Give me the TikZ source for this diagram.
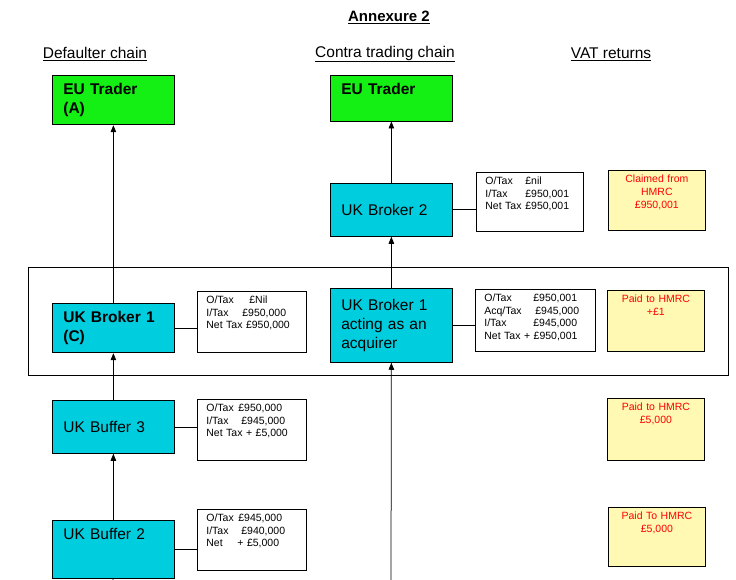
\documentclass[tikz,border=0pt]{standalone}
\usepackage{fontspec}
\setmainfont{Liberation Sans}
\usetikzlibrary{arrows.meta,positioning}
\definecolor{tradergreen}{HTML}{14F014}
\definecolor{brokercyan}{HTML}{00CEDF}
\definecolor{vatyellow}{HTML}{FFF9B4}

\begin{document}
\begin{tikzpicture}[x=1pt,y=-1pt, line width=0.75pt,
  party/.style={draw, anchor=north west, fill=brokercyan, text width=100pt, inner xsep=11pt, inner ysep=8pt, align=left, font=\fontsize{15.5}{19}\selectfont},
  trader/.style={party, fill=tradergreen, font=\fontsize{15.5}{19}\selectfont\bfseries},
  taxnote/.style={draw, anchor=north west, fill=white, inner xsep=9pt, inner ysep=5pt, align=left, font=\fontsize{10.5}{12.5}\selectfont},
  vatbox/.style={draw, anchor=north west, fill=vatyellow, text=red, text width=89pt, inner xsep=4pt, inner ysep=5pt, align=center, font=\fontsize{10.5}{13}\selectfont},
  heading/.style={font=\fontsize{15.5}{18}\selectfont},
  flow/.style={-{Triangle[length=7pt,width=5.5pt]}}
]
\useasboundingbox (0,0) rectangle (736,580);

% headings
\node[heading, font=\fontsize{15}{18}\selectfont\bfseries] (title) at (389,17) {\underline{Annexure 2}};
\node[heading] (defhead) at (95,54) {\underline{Defaulter chain}};
\node[heading] (contrahead) at (385,54) {\underline{Contra trading chain}};
\node[heading] (vathead) at (611,54) {\underline{VAT returns}};

% frame round the broker row
\node[draw, anchor=north west, minimum width=700pt, minimum height=108pt] (band) at (28,267) {};

% defaulter chain
\node[trader, minimum height=46pt] (traderA) at (52,75) {EU Trader\\(A)};
\node[party, font=\fontsize{15.5}{19}\selectfont\bfseries, minimum height=49pt] (brokerC) at (52,303) {UK Broker 1\\(C)};
\node[party, minimum height=53pt] (buf3) at (52,400) {UK Buffer 3};
\node[party, text depth=30.5pt] (buf2) at (52,520) {UK Buffer 2};
\coordinate (tail) at (113,580);

% contra trading chain
\node[trader, text depth=18.5pt] (traderB) at (330,75) {EU Trader};
\node[party, minimum height=53pt] (broker2) at (330,183) {UK Broker 2};
\node[party, minimum height=74pt] (acquirer) at (330,288) {UK Broker 1\\acting as an\\acquirer};
\coordinate (feed) at (391,580);

% tax notes
\node[taxnote, text width=91pt, text depth=43pt] (noteC) at (197,291)
  {\makebox[43pt][l]{O/Tax}£Nil\\\makebox[36pt][l]{I/Tax}£950,000\\Net Tax £950,000};
\node[taxnote, text width=91pt, text depth=43pt] (note3) at (197,399)
  {\makebox[32pt][l]{O/Tax}£950,000\\\makebox[35pt][l]{I/Tax}£945,000\\Net Tax + £5,000};
\node[taxnote, text width=91pt, text depth=43pt] (note2) at (197,509)
  {\makebox[32pt][l]{O/Tax}£945,000\\\makebox[35pt][l]{I/Tax}£940,000\\\makebox[31pt][l]{Net}+ £5,000};
\node[taxnote, text width=89pt, text depth=41pt] (noteB2) at (476,172)
  {\makebox[40pt][l]{O/Tax}£nil\\\makebox[40pt][l]{I/Tax}£950,001\\\makebox[40pt][l]{Net Tax}£950,001};
\node[taxnote, text width=102pt, text depth=44pt] (noteAcq) at (475,289)
  {\makebox[49pt][l]{O/Tax}£950,001\\\makebox[51pt][l]{Acq/Tax}£945,000\\\makebox[49pt][l]{I/Tax}£945,000\\Net Tax + £950,001};

% VAT returns
\node[vatbox, text depth=42pt] (claim) at (608,170) {Claimed from\\HMRC\\£950,001};
\node[vatbox, text depth=43pt] (paidone) at (607,290) {Paid to HMRC\\+£1};
\node[vatbox, text depth=44pt] (paidthree) at (607,398) {Paid to HMRC\\£5,000};
\node[vatbox, text depth=41pt] (paidtwo) at (608,507) {Paid To HMRC\\£5,000};

% goods flow
\draw[flow] (brokerC) -- (traderA);
\draw[flow] (buf3) -- (brokerC);
\draw[flow] (buf2) -- (buf3);
\draw (buf2) -- (tail);
\draw[flow] (broker2) -- (traderB);
\draw[flow] (acquirer) -- (broker2);
\draw[flow] (feed) -- (acquirer.south);

% boxes to their notes
\draw (brokerC.east) -- (brokerC.east -| noteC.west);
\draw (buf3.east) -- (buf3.east -| note3.west);
\draw (buf2.east) -- (buf2.east -| note2.west);
\draw (broker2.east) -- (broker2.east -| noteB2.west);
\draw (acquirer.east) -- (acquirer.east -| noteAcq.west);
\end{tikzpicture}
\end{document}
